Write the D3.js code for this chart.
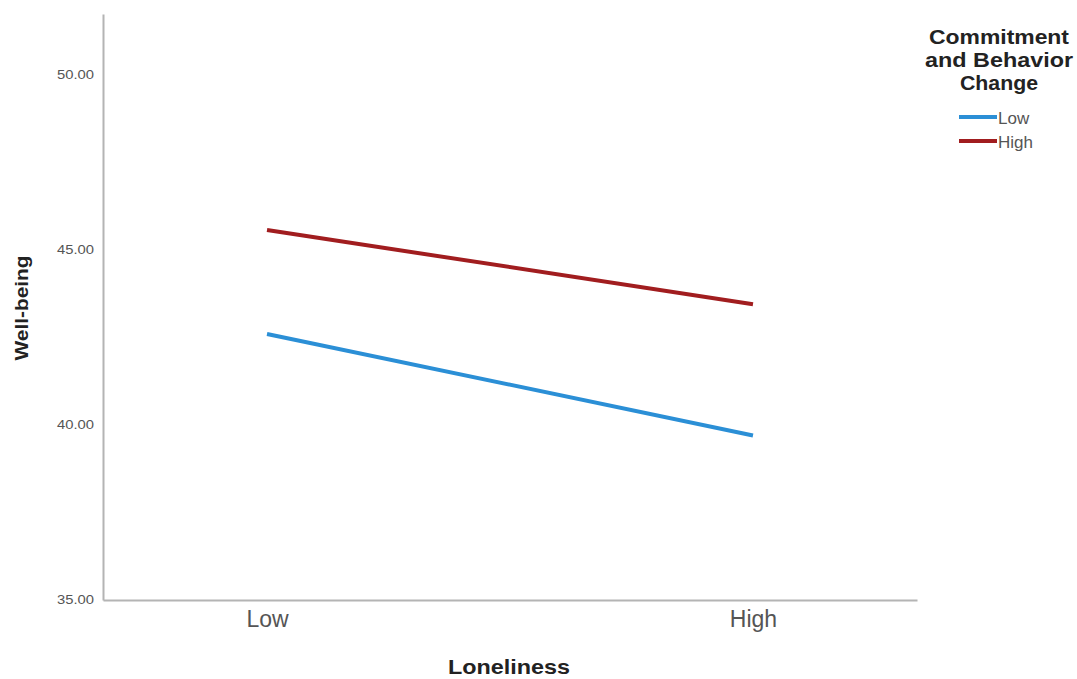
<!DOCTYPE html>
<html>
<head>
<meta charset="utf-8">
<script src="https://cdn.jsdelivr.net/npm/d3@7"></script>
<style>
body{margin:0;background:#fff;}
svg{display:block;font-family:Arial,"Liberation Sans",sans-serif;}
</style>
</head>
<body>
<svg id="chart" width="1077" height="679"></svg>
<script>
const categories = ["Low", "High"];
const seriesNames = ["Low", "High"];
const lowSeries = [42.6, 39.7];
const highSeries = [45.57, 43.45];
const yTicks = [35, 40, 45, 50];
const seriesColors = ["#2b8fd6", "#a11d1f"];

const svg = d3.select("#chart");
const plotLeft = 103, plotRight = 917, plotTop = 14, plotBottom = 600;

const x = d3.scalePoint().domain(categories).range([plotLeft, plotRight]).padding(0.3375);
const y = d3.scaleLinear().domain([35, 51.74]).range([plotBottom, plotTop]);

// y axis
const yAxis = svg.append("g").attr("transform", `translate(${plotLeft},0)`)
  .call(d3.axisLeft(y).tickValues(yTicks).tickFormat(d3.format(".2f")).tickSize(0).tickPadding(9));
yAxis.select(".domain").attr("stroke", "#b4b4b4").attr("stroke-width", 2);
yAxis.selectAll("text").attr("font-size", 12).attr("fill", "#555")
  .attr("font-family", "Arial, 'Liberation Sans', sans-serif")
  .attr("textLength", 37).attr("lengthAdjust", "spacingAndGlyphs");

// x axis
const xAxis = svg.append("g").attr("transform", `translate(0,${plotBottom})`)
  .call(d3.axisBottom(x).tickSize(0).tickPadding(11));
xAxis.select(".domain").attr("stroke", "#b4b4b4").attr("stroke-width", 2);
xAxis.selectAll("text").attr("font-size", 23).attr("fill", "#555").attr("font-family", "Arial, 'Liberation Sans', sans-serif");

// axis titles
svg.append("text").attr("x", 509).attr("y", 674).attr("text-anchor", "middle")
  .attr("font-size", 21).attr("font-weight", "bold").attr("fill", "#222")
  .attr("textLength", 122).attr("lengthAdjust", "spacingAndGlyphs").text("Loneliness");
svg.append("text").attr("transform", "translate(28,308) rotate(-90)").attr("text-anchor", "middle")
  .attr("font-size", 19).attr("font-weight", "bold").attr("fill", "#222")
  .attr("textLength", 105).attr("lengthAdjust", "spacingAndGlyphs").text("Well-being");

// lines
const data = [lowSeries, highSeries];
const line = d3.line().x((d, i) => x(categories[i])).y(d => y(d));
svg.selectAll(".series").data(data).enter().append("path")
  .attr("d", line).attr("fill", "none")
  .attr("stroke", (d, i) => seriesColors[i]).attr("stroke-width", 4);

// legend
const legTitle = ["Commitment", "and Behavior", "Change"];
const legLens = [140, 148, 78];
svg.selectAll(".lt").data(legTitle).enter().append("text")
  .attr("x", 999).attr("y", (d, i) => 44 + i * 23).attr("text-anchor", "middle")
  .attr("font-size", 20).attr("font-weight", "bold").attr("fill", "#222")
  .attr("textLength", (d, i) => legLens[i]).attr("lengthAdjust", "spacingAndGlyphs").text(d => d);
const leg = svg.selectAll(".li").data(seriesNames).enter().append("g")
  .attr("transform", (d, i) => `translate(959,${117 + i * 24})`);
leg.append("line").attr("x1", 0).attr("x2", 38).attr("stroke", (d, i) => seriesColors[i]).attr("stroke-width", 4);
leg.append("text").attr("x", 39).attr("y", 7).attr("font-size", 17).attr("fill", "#555").text(d => d);
</script>
</body>
</html>
